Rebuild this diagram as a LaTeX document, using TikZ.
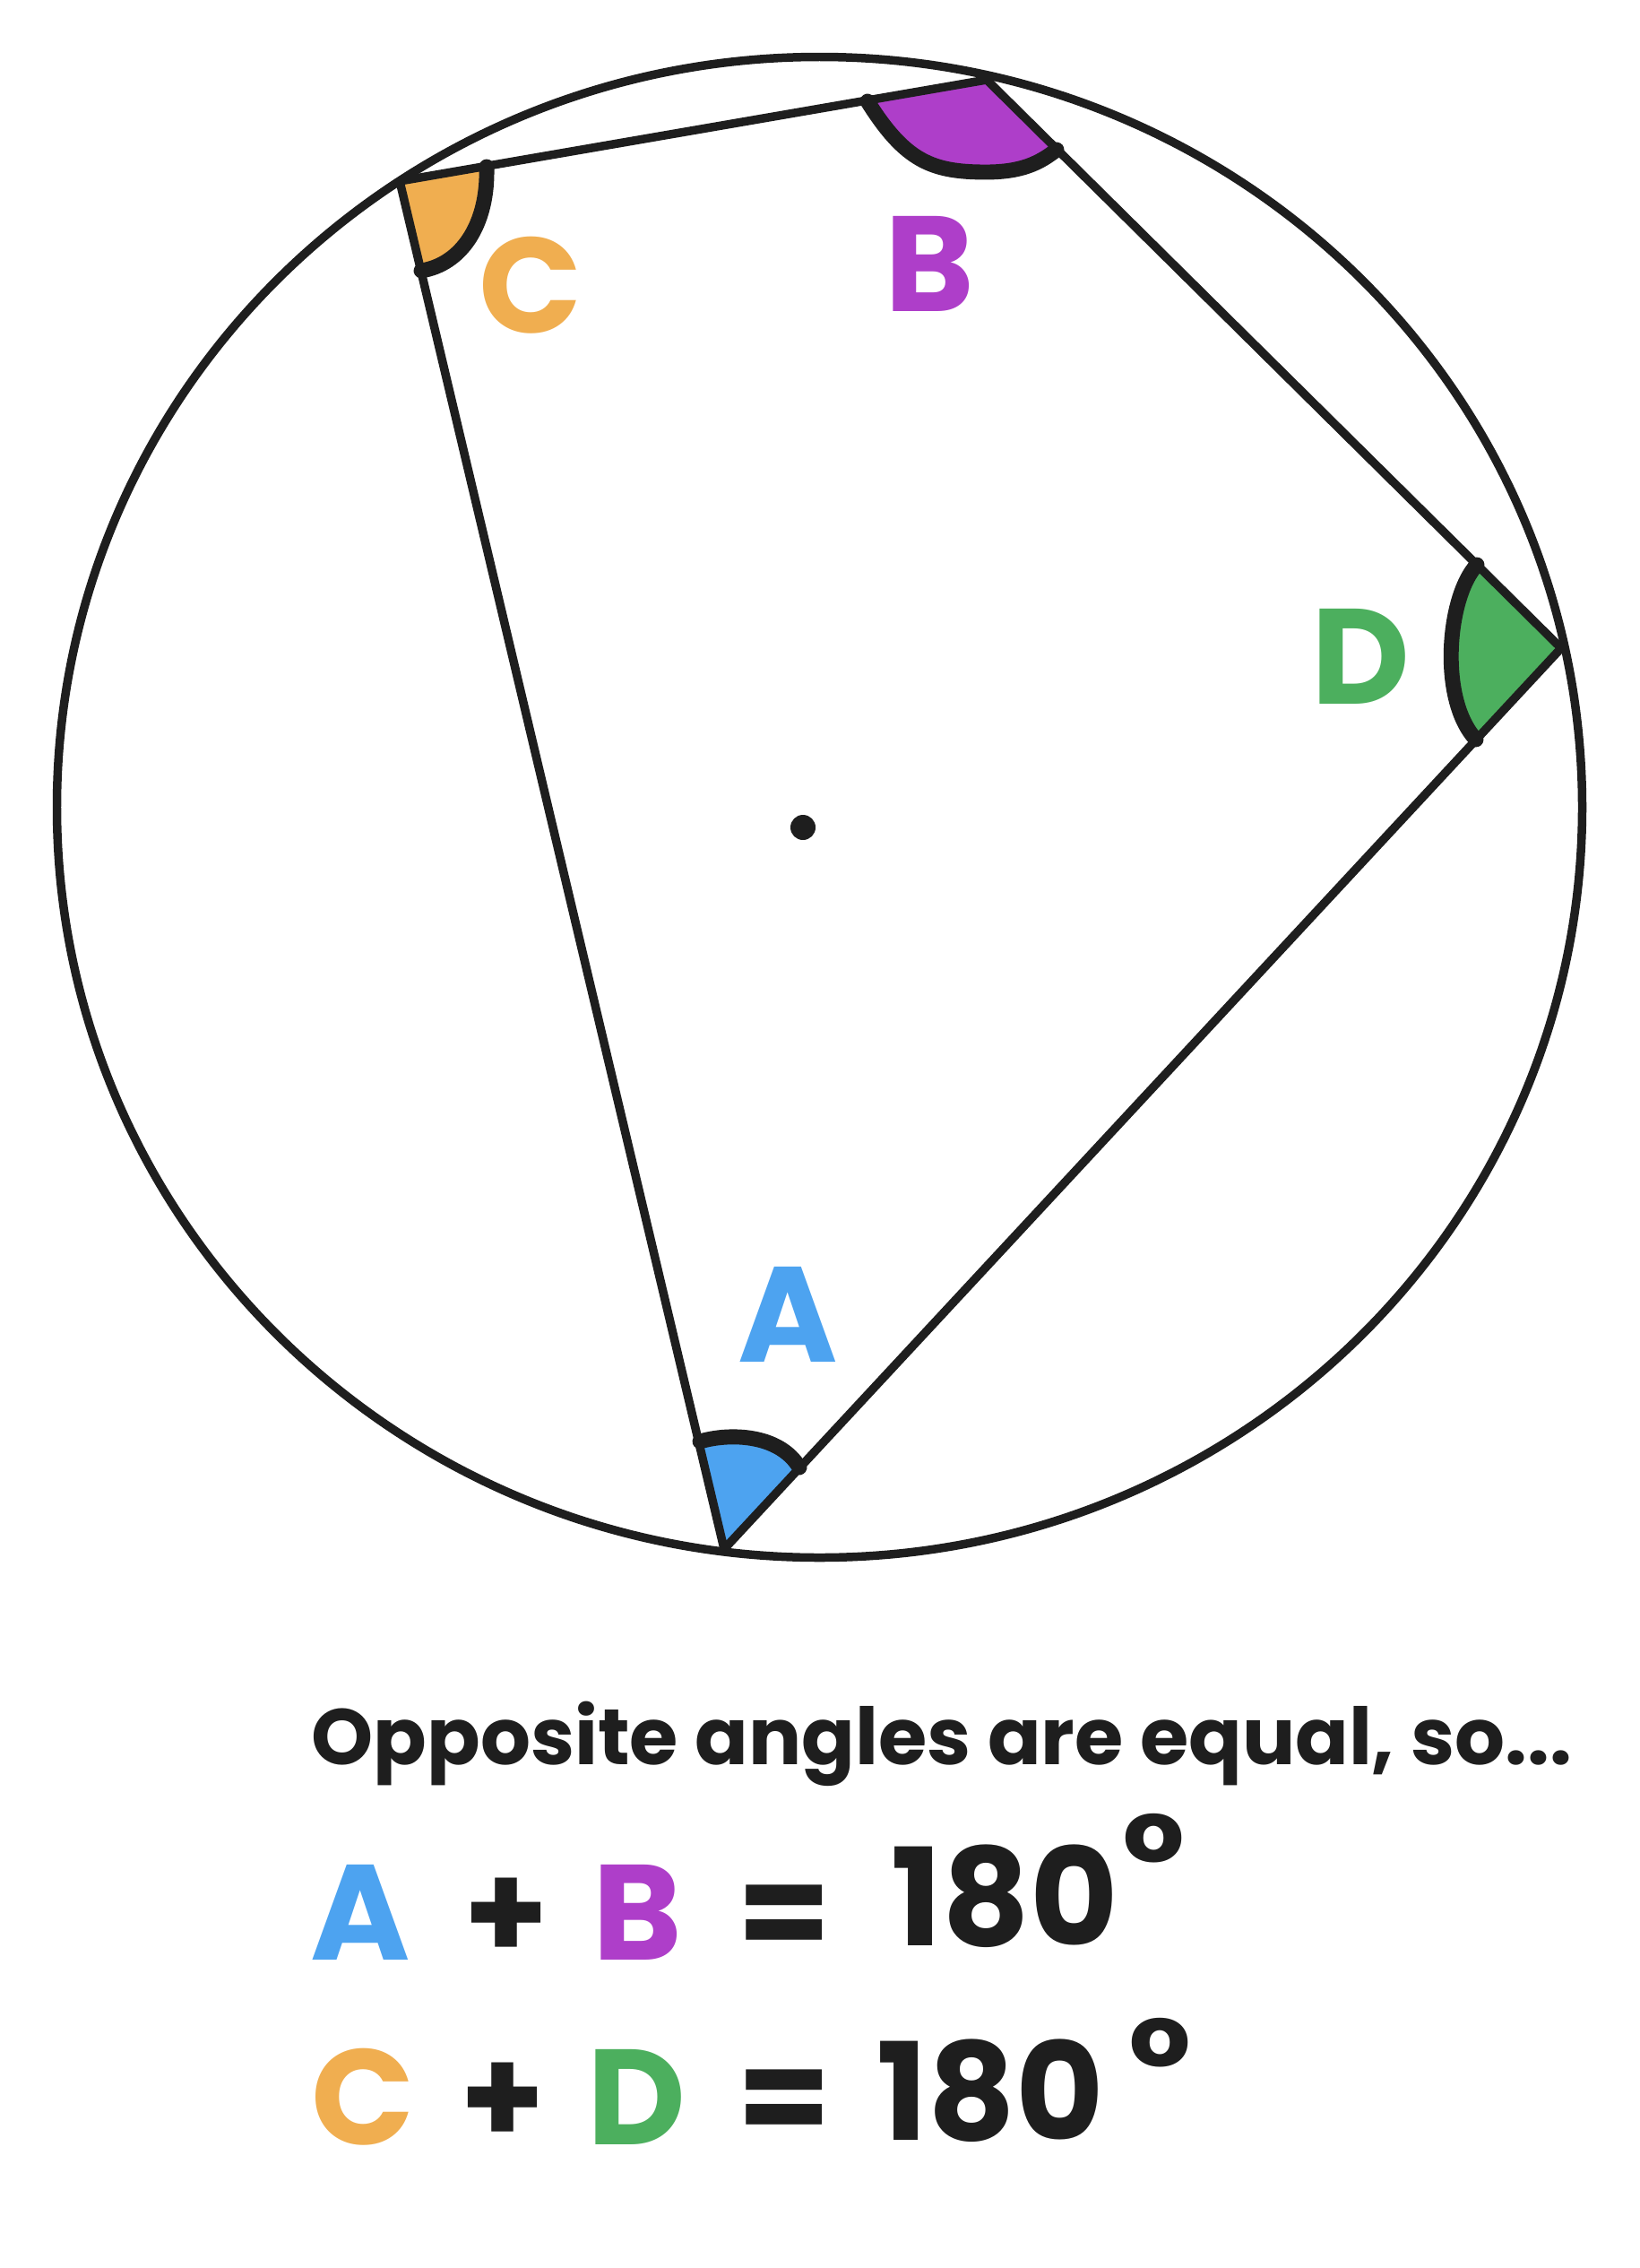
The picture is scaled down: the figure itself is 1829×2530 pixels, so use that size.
\documentclass[tikz,border=0pt]{standalone}
\usepackage{fontspec}
\setmainfont{Poppins}
\usetikzlibrary{positioning}
\definecolor{ink}{HTML}{1E1E1E}
\definecolor{angA}{HTML}{4DA3F0}
\definecolor{angB}{HTML}{AE3EC9}
\definecolor{angC}{HTML}{F0AE50}
\definecolor{angD}{HTML}{4CAF5E}

\tikzset{
  edge/.style={ink, line width=2.7pt, line join=round},
  anglearc/.style={ink, line width=4.8pt, line cap=round},
  lbl/.style={anchor=base, inner sep=0pt, font=\fontsize{43}{50}\selectfont\bfseries},
  note/.style={anchor=base west, inner sep=0pt, font=\fontsize{25}{30}\selectfont\bfseries},
}

\begin{document}
\begin{tikzpicture}[x=0.01cm, y=-0.01cm]

\useasboundingbox (0,0) rectangle (1829,2530);
%\draw[gray,very thin, step=100] (0,0) grid (1829,2530);

\coordinate (O) at (914.5,900.5);
\coordinate (ctr) at (896,923);
\coordinate (A) at (808,1728);
\coordinate (B) at (1101,89);
\coordinate (C) at (446,202);
\coordinate (D) at (1742,723);

% angle fills
\fill[angA] (A) -- (781,1608) .. controls (815,1598) and (870,1600) .. (892,1637) -- cycle;
\fill[angB] (B) -- (968,113) .. controls (1010,180) and (1040,192) .. (1100,192) .. controls (1140,192) and (1160,182) .. (1179,167) -- cycle;
\fill[angC] (C) -- (543,186) .. controls (545,250) and (515,295) .. (470,302) -- cycle;
\fill[angD] (D) -- (1648,630) .. controls (1615,665) and (1605,780) .. (1647,825) -- cycle;

\draw[edge] (O) ellipse [x radius=851, y radius=837];
\draw[edge] (C) -- (B) -- (D) -- (A) -- cycle;
\fill[ink] (ctr) circle [radius=14];

\draw[anglearc] (781,1608) .. controls (815,1598) and (870,1600) .. (892,1637);
\draw[anglearc] (968,113) .. controls (1010,180) and (1040,192) .. (1100,192) .. controls (1140,192) and (1160,182) .. (1179,167);
\draw[anglearc] (543,186) .. controls (545,250) and (515,295) .. (470,302);
\draw[anglearc] (1648,630) .. controls (1615,665) and (1605,780) .. (1647,825);

\node[lbl, angA] (lA) at (879,1519) {A};
\node[lbl, angB] (lB) at (1037,347) {B};
\node[lbl, angC] (lC) at (592,371) {C};
\node[lbl, angD] (lD) at (1518,785) {D};

\node[note, ink] (txt) at (347,1968) {Opposite angles are equal, so...};

% first sum
\node[lbl, angA] (eqA) at (402,2186) {A};
\node[lbl, ink] (eqplus) at (565,2186) {+};
\node[lbl, angB] (eqB) at (711,2186) {B};
\node[lbl, ink] (eqeq) at (875,2186) {=};
\node[lbl, ink] (eqnum) at (1121,2170) {180};
\node[lbl, ink] (eqdeg) at (1287,2130) {°};

% second sum
\node[lbl, angC] (eqC) at (405,2392) {C};
\node[lbl, ink] (eqplusb) at (561,2392) {+};
\node[lbl, angD] (eqD) at (710,2392) {D};
\node[lbl, ink] (eqeqb) at (875,2392) {=};
\node[lbl, ink] (eqnumb) at (1105,2387) {180};
\node[lbl, ink] (eqdegb) at (1294,2358) {°};

\end{tikzpicture}
\end{document}
